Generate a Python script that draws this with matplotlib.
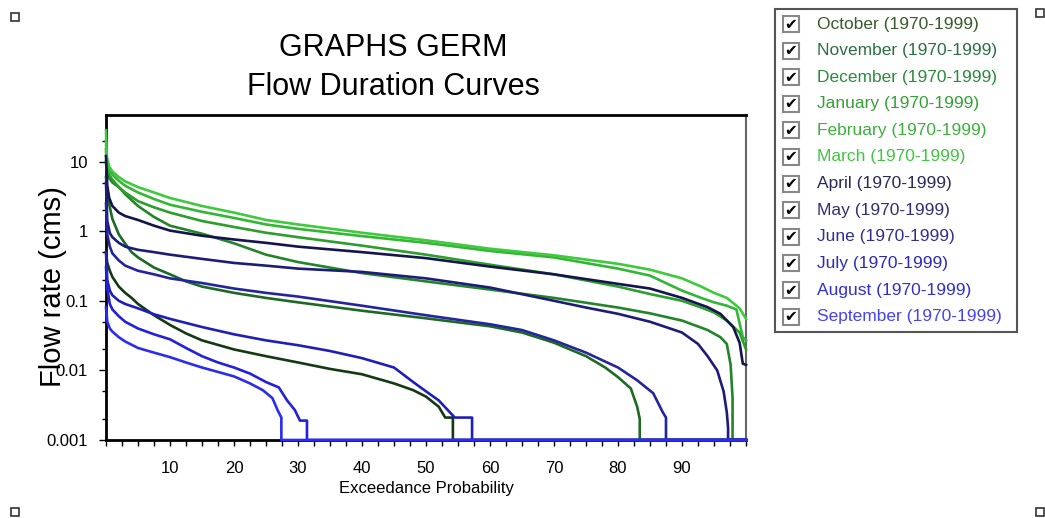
import matplotlib
matplotlib.use("Agg")
import matplotlib.pyplot as plt
from matplotlib.patches import Rectangle
from matplotlib.ticker import FixedLocator, FixedFormatter, MultipleLocator, LogLocator, NullFormatter

plt.rcParams["font.family"] = ["Liberation Sans", "DejaVu Sans"]

# --- datos (probabilidad de excedencia %, caudal cms) ---
meses = ["October", "November", "December", "January", "February", "March",
         "April", "May", "June", "July", "August", "September"]
periodo = "(1970-1999)"

p_oct = [0, 0.2, 0.6, 1, 2, 3, 4, 5, 7.5, 10, 12.5, 15, 20, 25, 30, 35, 40, 45, 48, 50, 52, 53, 54.2, 54.2, 100]
q_oct = [0.5, 0.35, 0.27, 0.22, 0.16, 0.13, 0.11, 0.09, 0.062, 0.045, 0.034, 0.027, 0.02, 0.016, 0.013, 0.0105,
         0.0088, 0.0065, 0.0052, 0.0042, 0.003, 0.0021, 0.0021, 0.001, 0.001]

p_nov = [0, 0.2, 0.6, 1, 2, 3, 4, 5, 7.5, 10, 12.5, 15, 20, 25, 30, 40, 50, 60, 65, 70, 75, 78, 80, 82, 83, 83.4, 83.4, 100]
q_nov = [6, 3.5, 2.2, 1.5, 0.9, 0.66, 0.5, 0.42, 0.3, 0.24, 0.19, 0.16, 0.13, 0.11, 0.095, 0.072, 0.056, 0.043,
         0.035, 0.025, 0.016, 0.011, 0.008, 0.0055, 0.003, 0.002, 0.001, 0.001]

p_dic = [0, 0.1, 0.5, 1, 2, 3, 5, 7.5, 10, 12.5, 15, 20, 25, 30, 40, 50, 60, 70, 80, 85, 90, 94, 96, 97, 97.6, 97.9, 97.9, 100]
q_dic = [10, 7, 5.8, 5.0, 4.3, 3.4, 2.3, 1.6, 1.2, 1.05, 0.92, 0.67, 0.46, 0.36, 0.25, 0.19, 0.145, 0.11, 0.08,
         0.066, 0.052, 0.038, 0.03, 0.024, 0.012, 0.004, 0.001, 0.001]

p_ene = [0, 0.1, 0.5, 1, 2, 3, 5, 7.5, 10, 15, 20, 25, 30, 40, 50, 60, 70, 80, 85, 90, 93, 95, 97, 99, 100]
q_ene = [15, 8, 6.5, 5.5, 4.3, 3.6, 2.7, 2.2, 1.85, 1.4, 1.15, 0.95, 0.82, 0.62, 0.46, 0.33, 0.24, 0.16, 0.125,
         0.1, 0.08, 0.068, 0.052, 0.035, 0.02]

p_feb = [0, 0.1, 0.5, 1, 2, 3, 5, 7.5, 10, 15, 20, 25, 30, 40, 50, 60, 70, 80, 85, 90, 93, 95, 97, 98.5, 99.5, 100]
q_feb = [20, 10, 7.5, 6.5, 5.3, 4.5, 3.6, 2.9, 2.4, 1.9, 1.55, 1.25, 1.08, 0.85, 0.68, 0.52, 0.42, 0.29, 0.23,
         0.14, 0.11, 0.095, 0.085, 0.075, 0.03, 0.027]

p_mar = [0, 0.1, 0.5, 1, 2, 3, 5, 7.5, 10, 15, 20, 25, 30, 40, 50, 60, 70, 80, 85, 90, 93, 95, 97, 99, 100]
q_mar = [28, 12, 8.5, 7.2, 6, 5.2, 4.3, 3.6, 3.0, 2.3, 1.85, 1.45, 1.25, 0.95, 0.74, 0.56, 0.45, 0.34, 0.28,
         0.21, 0.16, 0.13, 0.11, 0.078, 0.055]

p_abr = [0, 0.2, 0.5, 1, 2, 3, 5, 7.5, 10, 15, 20, 25, 30, 40, 50, 60, 70, 80, 85, 90, 94, 96, 98, 99, 99.5, 100]
q_abr = [12, 4.5, 3.0, 2.3, 1.85, 1.65, 1.45, 1.2, 1.02, 0.86, 0.76, 0.68, 0.6, 0.5, 0.41, 0.31, 0.24, 0.175,
         0.15, 0.11, 0.081, 0.065, 0.042, 0.025, 0.0125, 0.012]

p_may = [0, 0.2, 0.6, 1, 2, 3, 5, 7.5, 10, 15, 20, 25, 30, 40, 50, 60, 70, 75, 80, 85, 90, 92.5, 94, 95.5, 96.5,
         97, 97.2, 97.2, 100]
q_may = [5, 1.4, 0.94, 0.82, 0.68, 0.6, 0.54, 0.5, 0.46, 0.4, 0.35, 0.32, 0.29, 0.26, 0.21, 0.155, 0.1, 0.08,
         0.065, 0.05, 0.035, 0.024, 0.016, 0.01, 0.005, 0.0025, 0.0015, 0.001, 0.001]

p_jun = [0, 0.2, 0.6, 1, 2, 3, 5, 7.5, 10, 15, 20, 25, 30, 40, 50, 60, 65, 70, 75, 80, 83, 85.5, 87, 87.5, 87.5, 100]
q_jun = [2.5, 0.9, 0.6, 0.48, 0.38, 0.32, 0.27, 0.24, 0.21, 0.18, 0.15, 0.13, 0.115, 0.085, 0.062, 0.046, 0.038,
         0.027, 0.018, 0.011, 0.0072, 0.0047, 0.0025, 0.0021, 0.001, 0.001]

p_jul = [0, 0.2, 0.6, 1, 2, 3, 5, 7.5, 10, 15, 20, 25, 30, 35, 40, 45, 48, 50, 52, 54.5, 57.2, 57.2, 100]
q_jul = [0.5, 0.2, 0.14, 0.12, 0.1, 0.09, 0.078, 0.064, 0.055, 0.042, 0.033, 0.027, 0.023, 0.019, 0.015, 0.011,
         0.0068, 0.005, 0.0037, 0.0021, 0.0021, 0.001, 0.001]

p_ago = [0, 0.2, 0.6, 1, 2, 3, 5, 7.5, 10, 12.5, 15, 17.5, 20, 22.5, 25, 27, 28.3, 29.5, 30.3, 31.4, 31.4, 100]
q_ago = [0.3, 0.15, 0.09, 0.075, 0.06, 0.05, 0.04, 0.033, 0.028, 0.021, 0.016, 0.013, 0.011, 0.009, 0.0068,
         0.0057, 0.0037, 0.0027, 0.0019, 0.0019, 0.001, 0.001]

p_sep = [0, 0.2, 0.6, 1, 2, 3, 5, 7.5, 10, 12.5, 15, 17.5, 20, 22.5, 24.5, 26, 26.8, 27.4, 27.4, 100]
q_sep = [0.08, 0.05, 0.04, 0.036, 0.03, 0.026, 0.021, 0.018, 0.0155, 0.013, 0.011, 0.0095, 0.0082, 0.0065,
         0.0052, 0.004, 0.0027, 0.0021, 0.001, 0.001]

series_p = [p_oct, p_nov, p_dic, p_ene, p_feb, p_mar, p_abr, p_may, p_jun, p_jul, p_ago, p_sep]
series_q = [q_oct, q_nov, q_dic, q_ene, q_feb, q_mar, q_abr, q_may, q_jun, q_jul, q_ago, q_sep]

colores_linea = ["#133a13", "#1c6a24", "#23852a", "#2c9e2c", "#35b535", "#3dca3d",
                 "#14144e", "#1d1d78", "#24249c", "#1f1fb8", "#2121dc", "#2b2bf2"]
colores_texto = ["#3a5a2c", "#2b7040", "#2b8a3c", "#36a036", "#3db03d", "#44c444",
                 "#2a2a5a", "#303072", "#303092", "#2c2cb2", "#3030d2", "#4444f0"]

xticks = [10, 20, 30, 40, 50, 60, 70, 80, 90]
yticks = [0.001, 0.01, 0.1, 1, 10]
ytick_labels = ["0.001", "0.01", "0.1", "1", "10"]

W, H = 1045, 518
fig = plt.figure(figsize=(W / 100, H / 100), dpi=100)
ax = fig.add_axes([106 / W, 1 - 440 / H, 640 / W, 325 / H])

for p, q, c in zip(series_p, series_q, colores_linea):
    ax.plot(p, q, color=c, lw=1.9, zorder=3, clip_on=False)

ax.set_yscale("log")
ax.set_xlim(0, 100)
ax.set_ylim(0.001, 46.7)

ax.xaxis.set_major_locator(FixedLocator(xticks))
ax.xaxis.set_minor_locator(MultipleLocator(2.5))
ax.yaxis.set_major_locator(FixedLocator(yticks))
ax.yaxis.set_major_formatter(FixedFormatter(ytick_labels))
ax.yaxis.set_minor_locator(LogLocator(base=10, subs=(2, 5)))
ax.yaxis.set_minor_formatter(NullFormatter())
ax.tick_params(axis="x", which="both", direction="out", length=4, width=1, labelsize=12, pad=11)
ax.tick_params(axis="y", which="major", direction="out", length=5, width=1, labelsize=12, pad=8)
ax.tick_params(axis="y", which="minor", direction="out", length=3, width=1)

for s in ["left", "bottom", "top"]:
    ax.spines[s].set_linewidth(2)
    ax.spines[s].set_color("black")
ax.spines["right"].set_linewidth(1.5)
ax.spines["right"].set_color("#666666")

ax.set_xlabel("Exceedance Probability", fontsize=12, labelpad=4)
fig.text(53 / W, 1 - 287 / H, "Flow rate (cms)", rotation=90, fontsize=21,
         ha="center", va="center")

fig.text(393 / W, 1 - 48 / H, "GRAPHS GERM", fontsize=22, ha="center", va="center")
fig.text(393 / W, 1 - 87 / H, "Flow Duration Curves", fontsize=22, ha="center", va="center")

# leyenda con casillas
fig.patches.append(Rectangle((775 / W, 1 - 332 / H), 242 / W, 323 / H, transform=fig.transFigure,
                             fill=False, edgecolor="#555555", lw=1.5))
y0, dy = 24, 26.6
for i, (mes, c) in enumerate(zip(meses, colores_texto)):
    yc = y0 + i * dy
    fig.patches.append(Rectangle((783 / W, 1 - (yc + 8) / H), 16 / W, 16 / H, transform=fig.transFigure,
                                 facecolor="white", edgecolor="#888888", lw=1.5))
    fig.text(791 / W, 1 - yc / H, "\u2714", fontsize=11, ha="center", va="center",
             family="DejaVu Sans", color="black")
    fig.text(817 / W, 1 - yc / H, mes + " " + periodo, fontsize=12.5, ha="left", va="center", color=c)

# marcas de seleccion en las esquinas
for (xc, yc) in [(15, 17), (15, 512), (1040, 13), (1040, 512)]:
    fig.patches.append(Rectangle(((xc - 4) / W, 1 - (yc + 4) / H), 8 / W, 8 / H, transform=fig.transFigure,
                                 facecolor="white", edgecolor="#333333", lw=1.2))

fig.savefig("out.png", dpi=100)
